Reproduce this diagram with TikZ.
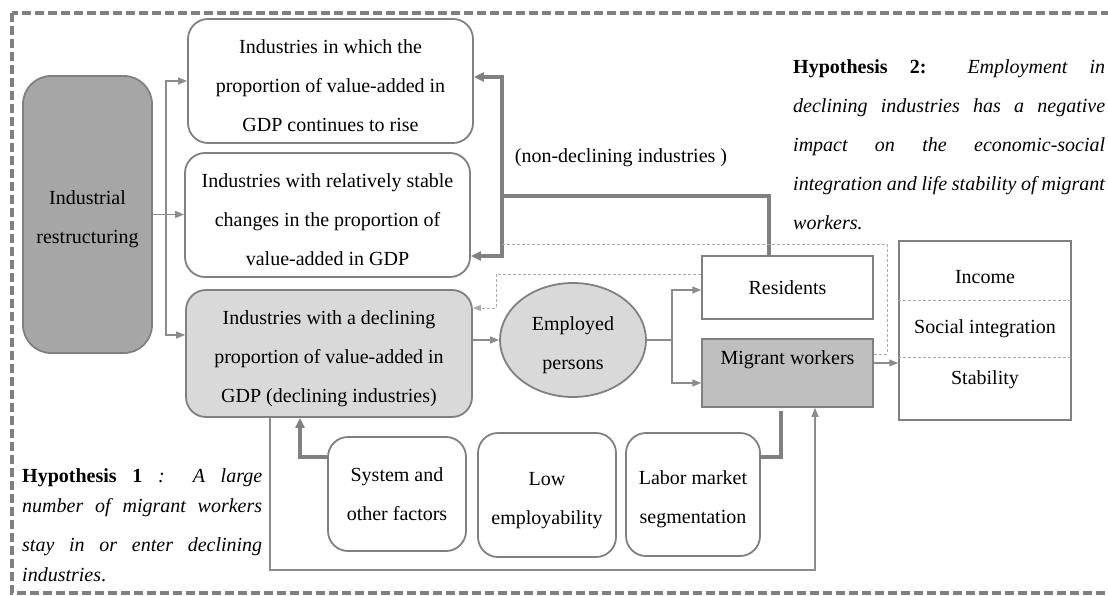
\documentclass[tikz,border=0pt]{standalone}
\usepackage{fontspec}
\setmainfont{Liberation Serif}
\usetikzlibrary{arrows.meta,shapes.geometric}

\definecolor{edgec}{RGB}{128,128,128}
\definecolor{linec}{RGB}{140,140,140}
\definecolor{darkf}{RGB}{166,166,166}
\definecolor{lightf}{RGB}{217,217,217}
\definecolor{migf}{RGB}{191,191,191}
\definecolor{dashc}{RGB}{170,170,170}

\newcommand\figfont{\fontsize{20}{39}\selectfont}
% taller first line: pushes a centred text block a little lower in its box
\newcommand\topstrut{\rule{0pt}{24pt}}

\tikzset{
  rbox/.style={draw=edgec, line width=1.8pt, rounded corners=20pt, fill=white,
    inner sep=0pt, align=center, font=\figfont},
  sqbox/.style={draw=edgec, line width=1.5pt, fill=white, inner sep=0pt,
    align=center, font=\figfont},
  lbl/.style={inner sep=0pt, font=\figfont},
  conn/.style={draw=linec, line width=1.3pt, -{Triangle[length=9pt,width=7pt]}},
  plainconn/.style={draw=linec, line width=1.3pt},
  thickc/.style={draw=edgec, line width=4pt},
  thickarrow/.style={thickc, -{Triangle[length=10pt,width=9pt]}},
  dsh/.style={draw=dashc, line width=1pt, dash pattern=on 3pt off 2pt},
  border/.style={draw=edgec, line width=3.5pt, dash pattern=on 9pt off 4pt}
}

\begin{document}
\begin{tikzpicture}[x=1pt, y=-1pt]
  \clip (0,0) rectangle (1108,596);

  % outer dashed frame
  \draw[border] (12,13) rectangle (1125,593);

  % left column
  \node[rbox, rounded corners=28pt, fill=darkf, minimum width=129pt, minimum height=277pt]
    (ind) at (87.5,214.5) {\topstrut Industrial\\restructuring};

  % industry classes
  \node[rbox, minimum width=285pt, minimum height=124pt] (b1) at (330.5,81)
    {\topstrut Industries in which the\\proportion of value-added in\\GDP continues to rise};
  \node[rbox, minimum width=285pt, minimum height=124pt] (b2) at (327.5,215)
    {\topstrut Industries with relatively stable\\changes in the proportion of\\value-added in GDP};
  \node[rbox, fill=lightf, minimum width=286pt, minimum height=127pt] (b3) at (329,353.5)
    {\topstrut Industries with a declining\\proportion of value-added in\\GDP (declining industries)};

  % employed persons
  \node[ellipse, draw=edgec, line width=1.8pt, fill=lightf, inner sep=0pt,
    minimum width=146pt, minimum height=114pt, align=center, font=\figfont]
    (emp) at (573,340) {\topstrut Employed\\persons};

  \node[sqbox, minimum width=171pt, minimum height=63pt] (res) at (787.5,287.5) {Residents};
  \node[sqbox, fill=migf, minimum width=171pt, minimum height=68pt] (mig) at (787.5,373) {};
  \node[lbl] (migt) at (787.5,360) {Migrant workers};

  % outcome panel
  \node[sqbox, minimum width=172pt, minimum height=179pt] (out) at (985,330.5) {};
  \node[lbl] (inc) at (985,277) {Income};
  \node[lbl] (soc) at (985,329) {Social integration};
  \node[lbl] (stab) at (985,380) {Stability};
  \coordinate (d1) at (985,300);
  \coordinate (d2) at (985,357);
  \draw[dsh] (d1 -| out.west) -- (d1 -| out.east);
  \draw[dsh] (d2 -| out.west) -- (d2 -| out.east);

  % factors
  \node[rbox, minimum width=138pt, minimum height=114pt] (sys) at (397,494)
    {System and\\other factors};
  \node[rbox, minimum width=138pt, minimum height=124pt] (low) at (547,495)
    {\topstrut Low\\employability};
  \node[rbox, minimum width=134pt, minimum height=123pt] (lab) at (693,494.5)
    {\topstrut Labor market\\segmentation};

  % hypotheses
  \node[inner sep=0pt, anchor=north west, align=left, font=\fontsize{20}{39}\selectfont]
    (h2) at (793,59)
    {\makebox[312pt][s]{\textbf{Hypothesis 2:} \textit{Employment in}}\\
     \makebox[312pt][s]{\textit{declining industries has a negative}}\\
     \makebox[312pt][s]{\textit{impact on the economic-social}}\\
     \makebox[312pt][s]{\textit{integration and life stability of migrant}}\\
     \textit{workers.}};
  \node[inner sep=0pt, anchor=north west, align=left, font=\fontsize{20}{30}\selectfont]
    (h1) at (22,468)
    {\makebox[240pt][s]{\textbf{Hypothesis 1} \textit{: A large}}\\
     \makebox[240pt][s]{\textit{number of migrant workers}}\\[9pt]
     \makebox[240pt][s]{\textit{stay in or enter declining}}\\
     \textit{industries}.};

  \node[lbl] (nd-label) at (621,158) {(non-declining industries )};

  % restructuring splits into three classes
  \coordinate (tr) at (166,215);
  \draw[conn] (ind.east) -- (ind.east -| b2.west);
  \draw[conn] (tr) |- (b1.west);
  \draw[conn] (tr) |- ([yshift=18.5pt]b3.west);

  % residents feed the non-declining industries
  \coordinate (nd) at (502,196);
  \draw[thickc] ([xshift=-18.5pt]res.north) |- (nd);
  \draw[thickc, {Triangle[length=10pt,width=9pt]}-{Triangle[length=10pt,width=9pt]}]
    ([yshift=4pt]b1.east) -| (nd) |- ([yshift=-41pt]b2.east);

  % declining industries -> employed persons -> residents / migrants
  \draw[conn] (b3.east |- emp.west) -- (emp.west);
  \coordinate (eb) at (672,340);
  \draw[plainconn] (emp.east) -- (eb);
  \draw[conn] (eb) |- ([yshift=-2.5pt]res.west);
  \draw[conn] (eb) |- ([yshift=-10pt]mig.west);

  % dashed feedback paths
  \coordinate (dr) at (887,244);
  \draw[dsh] ([yshift=19pt]mig.east) -| (dr) -- (dr -| nd);
  \coordinate (dl) at (496,308);
  \draw[dsh, -{Triangle[length=8pt,width=6pt]}] ([yshift=13.5pt]res.west) -| (dl) -- (dl -| b3.east);

  % migrants -> outcomes
  \draw[conn] ([yshift=10pt]mig.east) -- ([yshift=10pt]mig.east -| out.west);

  % factor links
  \coordinate (sb) at (300,457);
  \draw[thickarrow] ([yshift=37pt]sys.west) -- (sb) -- (sb |- b3.south);
  \coordinate (lb) at (781,457);
  \draw[thickc] ([yshift=37.5pt]lab.east) -- (lb) -- ([yshift=-3pt]lb |- mig.south);

  % declining industries -> migrant workers
  \coordinate (bl) at (270,570);
  \coordinate (br) at (815,570);
  \draw[conn] (bl |- b3.south) -- (bl) -- (br) -- (br |- mig.south);
\end{tikzpicture}
\end{document}
